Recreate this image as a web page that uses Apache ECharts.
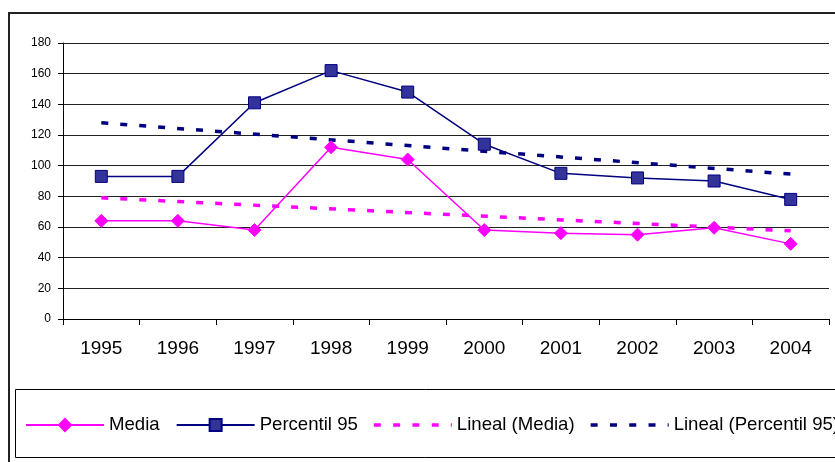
<!DOCTYPE html>
<html>
<head>
<meta charset="utf-8">
<script src="https://cdn.jsdelivr.net/npm/echarts@6/dist/echarts.min.js"></script>
<style>
html,body{margin:0;padding:0;background:#fff;}
#chart{width:835px;height:462px;}
</style>
</head>
<body>
<div id="chart"></div>
<script>
var years = ['1995','1996','1997','1998','1999','2000','2001','2002','2003','2004'];
var media = [64, 64, 58, 112, 104, 58, 56, 55, 59.5, 49];
var percentil95 = [93, 93, 141, 162, 148, 114, 95, 92, 90, 78];
var linealMediaEnds = [['1995', 79], ['2004', 57.5]];
var linealP95Ends = [['1995', 128], ['2004', 94.5]];
var yTicks = {min: 0, max: 180, interval: 20};
var seriesNames = ['Media', 'Percentil 95', 'Lineal (Media)', 'Lineal (Percentil 95)'];

// dashed legend icon (78 x 15 box)
var dashIcon = 'path://M0,0h0.01v0.01h-0.01z M78,15h-0.01v-0.01h0.01z ' +
  'M0,5.75h7v3.5h-7z M19.3,5.75h7v3.5h-7z M38.6,5.75h7v3.5h-7z M57.9,5.75h7v3.5h-7z M77,5.75h1v3.5h-1z';

var chart = echarts.init(document.getElementById('chart'), null, {renderer: 'canvas'});
var FONT = 'Liberation Sans, Arial, sans-serif';
chart.setOption({
  animation: false,
  backgroundColor: '#fff',
  textStyle: {fontFamily: FONT},
  graphic: [
    {type: 'rect', shape: {x: 9, y: 13, width: 900, height: 500}, style: {fill: 'none', stroke: '#222', lineWidth: 2}, z: -1},
    {type: 'rect', shape: {x: 15.5, y: 389.5, width: 900, height: 68}, style: {fill: 'none', stroke: '#000', lineWidth: 1}, z: -1}
  ],
  grid: {left: 63, right: 6, top: 43, bottom: 143, containLabel: false},
  legend: {
    left: 25, top: 415.5, width: 2000, padding: 0,
    itemWidth: 78, itemHeight: 15, itemGap: 16,
    textStyle: {fontSize: 18.6, color: '#000', fontFamily: FONT},
    data: [
      {name: seriesNames[0]},
      {name: seriesNames[1]},
      {name: seriesNames[2], icon: dashIcon},
      {name: seriesNames[3], icon: dashIcon}
    ]
  },
  xAxis: {
    type: 'category', data: years, boundaryGap: true,
    axisLine: {lineStyle: {color: '#000', width: 1}},
    axisTick: {show: true, length: 6, lineStyle: {color: '#000'}},
    axisLabel: {fontSize: 19, color: '#000', margin: 20, fontFamily: FONT},
    splitLine: {show: false}
  },
  yAxis: {
    type: 'value', min: yTicks.min, max: yTicks.max, interval: yTicks.interval,
    axisLine: {show: true, lineStyle: {color: '#000', width: 1}},
    axisTick: {show: true, length: 5, lineStyle: {color: '#000'}},
    axisLabel: {fontSize: 12, color: '#000', margin: 12, fontFamily: FONT},
    splitLine: {show: true, lineStyle: {color: '#222', width: 1}}
  },
  series: [
    {
      name: seriesNames[0], type: 'line', data: media,
      symbol: 'diamond', symbolSize: 13,
      lineStyle: {color: '#FF00FF', width: 1.5},
      itemStyle: {color: '#FF00FF', borderColor: '#FF00FF', borderWidth: 1},
      z: 4
    },
    {
      name: seriesNames[1], type: 'line', data: percentil95,
      symbol: 'rect', symbolSize: 12,
      lineStyle: {color: '#000080', width: 1.5},
      itemStyle: {color: '#333399', borderColor: '#000080', borderWidth: 1},
      z: 4
    },
    {
      name: seriesNames[2], type: 'line', data: linealMediaEnds,
      symbol: 'none',
      lineStyle: {color: '#FF00FF', width: 3.5, type: [7, 12]},
      itemStyle: {color: '#FF00FF'},
      z: 3
    },
    {
      name: seriesNames[3], type: 'line', data: linealP95Ends,
      symbol: 'none',
      lineStyle: {color: '#000080', width: 3.5, type: [7, 12]},
      itemStyle: {color: '#000080'},
      z: 3
    }
  ]
});
</script>
</body>
</html>
